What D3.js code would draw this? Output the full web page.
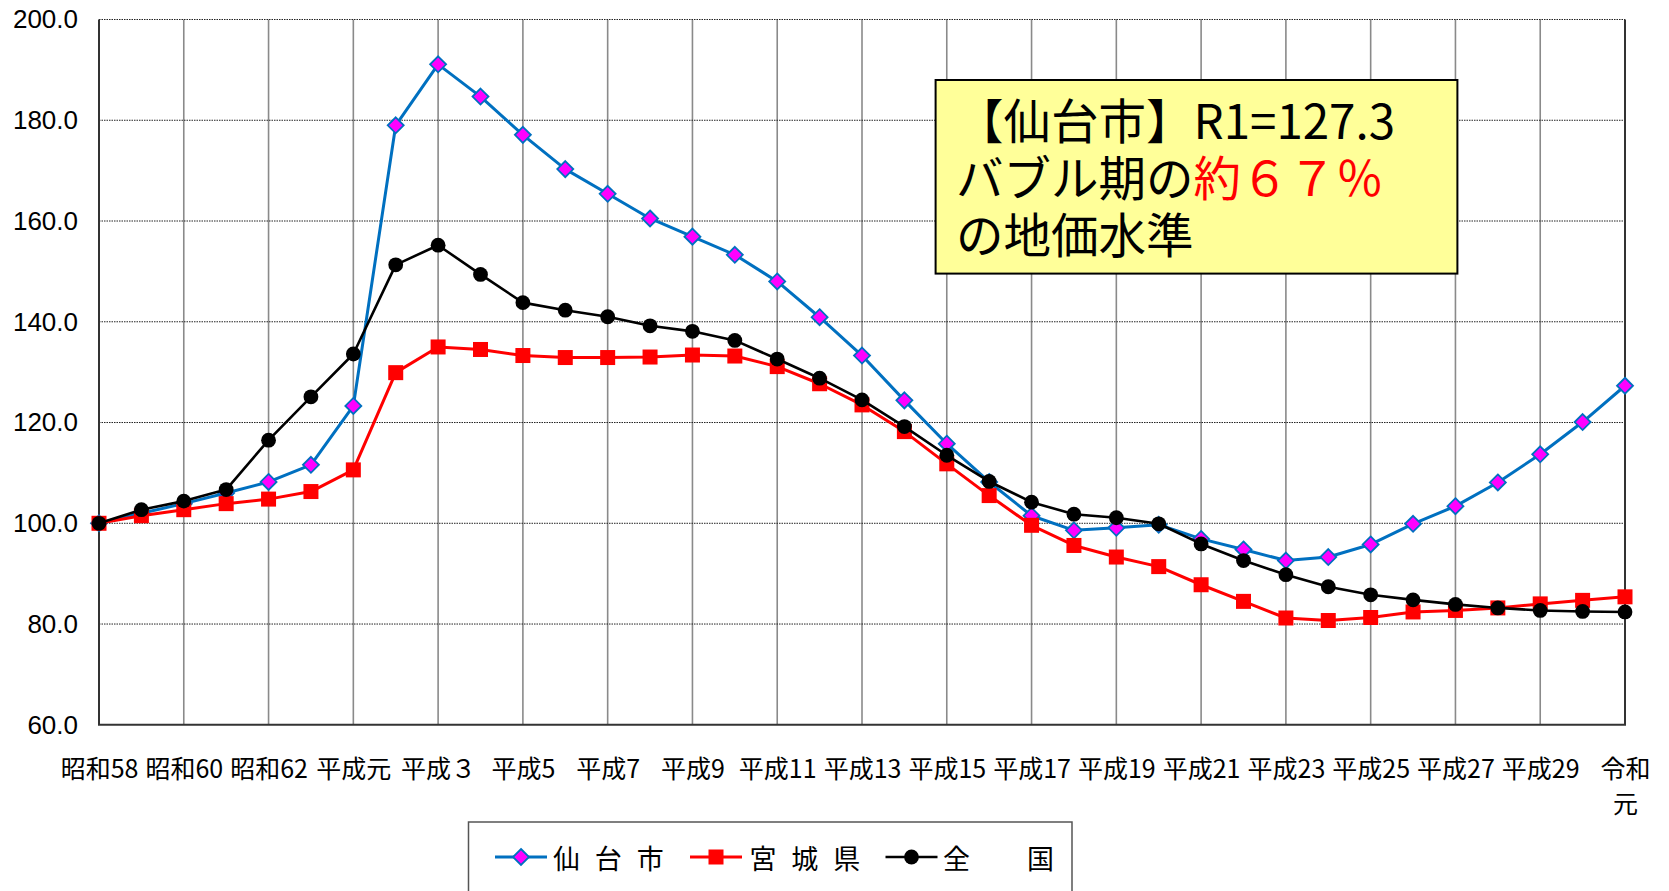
<!DOCTYPE html>
<html lang="ja">
<head>
<meta charset="utf-8">
<script src="https://cdn.jsdelivr.net/npm/d3@7/dist/d3.min.js"></script>
<style>
  html, body { margin: 0; padding: 0; background: #fff; }
  svg { display: block; font-family: "Noto Sans CJK JP", "Noto Sans", sans-serif; }
</style>
</head>
<body>
<svg id="chart" width="1669" height="891"></svg>
<script>
// Years 昭和58 (1983) – 令和元 (2019)
const years = [
  "昭和58","昭和59","昭和60","昭和61","昭和62","昭和63",
  "平成元","平成2","平成3","平成4","平成5","平成6","平成7","平成8","平成9","平成10",
  "平成11","平成12","平成13","平成14","平成15","平成16","平成17","平成18","平成19","平成20",
  "平成21","平成22","平成23","平成24","平成25","平成26","平成27","平成28","平成29","平成30",
  "令和元"
];

// Labels shown under every second year
const xTickLabels = [
  "昭和58","昭和60","昭和62","平成元","平成３","平成5","平成7","平成9","平成11","平成13",
  "平成15","平成17","平成19","平成21","平成23","平成25","平成27","平成29","令和|元"
];

const yTicks = [60, 80, 100, 120, 140, 160, 180, 200];

// Land price index (昭和58 = 100)
const sendai = [
  100.0, 102.0, 103.9, 106.0, 108.2, 111.6, 123.3, 179.0, 191.1, 184.7,
  177.1, 170.3, 165.4, 160.5, 156.9, 153.3, 148.0, 140.9, 133.3, 124.4,
  115.8, 108.2, 101.5, 98.6, 99.1, 99.7, 96.9, 94.8, 92.6, 93.3,
  95.8, 99.9, 103.4, 108.1, 113.7, 120.1, 127.3
];
const miyagi = [
  100.0, 101.5, 102.7, 103.9, 104.8, 106.3, 110.6, 129.9, 135.0, 134.5,
  133.3, 132.9, 132.9, 133.0, 133.4, 133.2, 131.1, 127.7, 123.5, 118.2,
  111.8, 105.5, 99.6, 95.6, 93.3, 91.4, 87.8, 84.5, 81.2, 80.7,
  81.3, 82.4, 82.7, 83.2, 84.0, 84.7, 85.4
];
const national = [
  100.0, 102.7, 104.4, 106.7, 116.5, 125.1, 133.6, 151.3, 155.2, 149.4,
  143.8, 142.3, 141.0, 139.2, 138.1, 136.3, 132.6, 128.8, 124.5, 119.2,
  113.5, 108.3, 104.2, 101.8, 101.1, 99.9, 95.9, 92.6, 89.8, 87.4,
  85.8, 84.8, 83.9, 83.2, 82.7, 82.5, 82.4
];

const seriesNames = ["仙 台 市", "宮 城 県", "全　　国"];

const series = [
  { name: seriesNames[0], values: sendai,   line: "#0070C0", width: 3,   marker: "diamond" },
  { name: seriesNames[1], values: miyagi,   line: "#FF0000", width: 3,   marker: "square" },
  { name: seriesNames[2], values: national, line: "#000000", width: 2.6, marker: "circle" }
];

const svg = d3.select("#chart");

const plot = { left: 99, right: 1625, top: 19.5, bottom: 724.8 };

const x = d3.scalePoint().domain(years).range([plot.left, plot.right]);
const y = d3.scaleLinear().domain([60, 200]).range([plot.bottom, plot.top]);

// Vertical grid lines every second year
const gridYears = years.filter((d, i) => i % 2 === 0 && i > 0 && i < years.length - 1);
svg.append("g")
  .selectAll("line")
  .data(gridYears)
  .join("line")
  .attr("x1", d => x(d)).attr("x2", d => x(d))
  .attr("y1", plot.top).attr("y2", plot.bottom)
  .attr("stroke", "#8a8a8a")
  .attr("stroke-width", 1.6);

// Horizontal dotted grid lines
svg.append("g")
  .selectAll("line")
  .data(yTicks.filter(v => v > 60))
  .join("line")
  .attr("x1", plot.left).attr("x2", plot.right)
  .attr("y1", d => y(d)).attr("y2", d => y(d))
  .attr("stroke", "#222")
  .attr("stroke-width", 1)
  .attr("stroke-dasharray", "1.5,1");

// Plot frame: left axis, bottom axis, right border
svg.append("path")
  .attr("d", `M${plot.left},${plot.top}V${plot.bottom}H${plot.right}V${plot.top}`)
  .attr("fill", "none")
  .attr("stroke", "#333")
  .attr("stroke-width", 2);

// Y axis labels
const yAxis = svg.append("g")
  .attr("transform", `translate(${plot.left},0)`)
  .call(d3.axisLeft(y).tickValues(yTicks).tickFormat(d3.format(".1f")).tickSize(0).tickPadding(21));
yAxis.select(".domain").remove();
yAxis.selectAll("text")
  .attr("font-family", "'Liberation Sans', sans-serif")
  .attr("font-size", 26)
  .attr("fill", "#000");

// X axis labels
const tickYears = years.filter((d, i) => i % 2 === 0);
const xAxis = svg.append("g")
  .attr("transform", `translate(0,${plot.bottom})`)
  .call(d3.axisBottom(x).tickValues(tickYears).tickSize(0).tickFormat(() => ""));
xAxis.select(".domain").remove();
xAxis.selectAll(".tick text").remove();
xAxis.selectAll(".tick").each(function(d, i) {
  const parts = xTickLabels[i].split("|");
  const t = d3.select(this).append("text")
    .attr("font-family", "Noto Sans CJK JP")
    .attr("font-size", 25)
    .attr("fill", "#000")
    .attr("text-anchor", "middle");
  parts.forEach((p, k) => {
    t.append("tspan")
      .attr("x", 0)
      .attr("y", 42 + k * 35)
      .attr("dominant-baseline", "central")
      .text(p);
  });
});

// Marker drawing
function drawMarker(sel, type, color) {
  if (type === "diamond") {
    sel.append("path")
      .attr("d", "M0,-8L8,0L0,8L-8,0Z")
      .attr("fill", "#FF00FF")
      .attr("stroke", color)
      .attr("stroke-width", 1.8);
  } else if (type === "square") {
    sel.append("rect")
      .attr("x", -7.5).attr("y", -7.5)
      .attr("width", 15).attr("height", 15)
      .attr("fill", "#FF0000");
  } else {
    sel.append("circle")
      .attr("r", 7.4)
      .attr("fill", "#000");
  }
}

const line = d3.line()
  .x((d, i) => x(years[i]))
  .y(d => y(d));

series.forEach(s => {
  const g = svg.append("g");
  g.append("path")
    .attr("d", line(s.values))
    .attr("fill", "none")
    .attr("stroke", s.line)
    .attr("stroke-width", s.width)
    .attr("stroke-linejoin", "round");
  g.selectAll("g.pt")
    .data(s.values)
    .join("g")
    .attr("class", "pt")
    .attr("transform", (d, i) => `translate(${x(years[i])},${y(d)})`)
    .each(function() { drawMarker(d3.select(this), s.marker, s.line); });
});

// Annotation box
const note = svg.append("g");
note.append("rect")
  .attr("x", 935.6).attr("y", 80)
  .attr("width", 521.8).attr("height", 193.6)
  .attr("fill", "#FFFF99")
  .attr("stroke", "#000")
  .attr("stroke-width", 2);

const noteX = 956;
const noteFont = 47.5;
function noteLine(txt, xPos, yPos, color) {
  return note.append("text")
    .attr("x", xPos).attr("y", yPos)
    .attr("font-family", "Noto Sans CJK JP")
    .attr("font-size", noteFont)
    .attr("fill", color)
    .text(txt);
}
noteLine("【仙台市】R1=" + sendai[sendai.length - 1].toFixed(1), noteX, 139, "#000");
const l2a = noteLine("バブル期の", noteX, 196, "#000");
noteLine("約６７％", noteX + l2a.node().getComputedTextLength(), 196, "#FF0000");
noteLine("の地価水準", noteX, 253, "#000");

// Legend
const legend = svg.append("g");
legend.append("rect")
  .attr("x", 468.5).attr("y", 822)
  .attr("width", 603.5).attr("height", 120)
  .attr("fill", "#fff")
  .attr("stroke", "#555")
  .attr("stroke-width", 1.5);

const legendItems = [
  { s: series[0], x0: 495, tx: 553, ls: 4.4 },
  { s: series[1], x0: 690, tx: 749.5, ls: 4.4 },
  { s: series[2], x0: 885.5, tx: 943, ls: 1.0 }
];
const ly = 857;
legendItems.forEach(it => {
  const g = legend.append("g");
  g.append("line")
    .attr("x1", it.x0).attr("x2", it.x0 + 52)
    .attr("y1", ly).attr("y2", ly)
    .attr("stroke", it.s.line)
    .attr("stroke-width", it.s.width);
  const m = g.append("g").attr("transform", `translate(${it.x0 + 26},${ly})`);
  drawMarker(m, it.s.marker, it.s.line);
  g.append("text")
    .attr("x", it.tx).attr("y", ly)
    .attr("dominant-baseline", "central")
    .attr("font-family", "Noto Sans CJK JP")
    .attr("font-size", 27)
    .attr("letter-spacing", it.ls)
    .style("white-space", "pre")
    .attr("fill", "#000")
    .text(it.s.name);
});
</script>
</body>
</html>
